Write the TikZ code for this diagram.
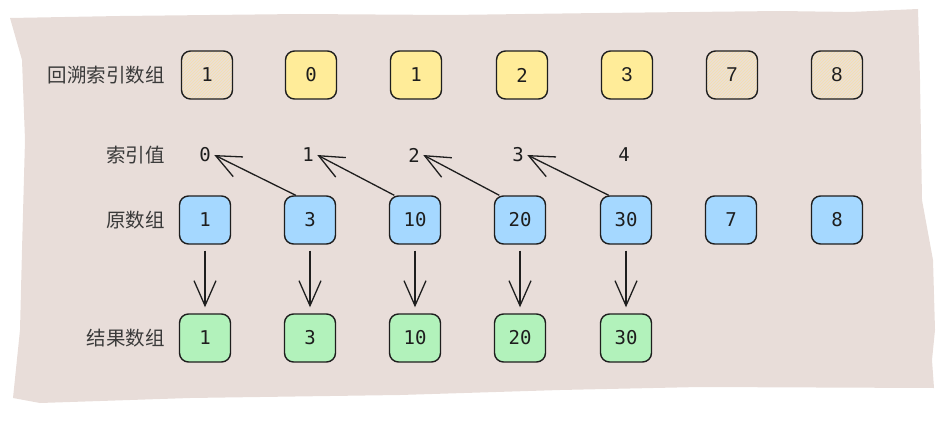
\documentclass[tikz,border=0pt]{standalone}
\usepackage{fontspec}
\newfontfamily\cjk{Noto Sans CJK SC}
\newfontfamily\mono{DejaVu Sans Mono}
\newfontfamily\sansnum{Liberation Sans}
\usetikzlibrary{arrows.meta,patterns}
\definecolor{bgc}{HTML}{E8DDD9}
\definecolor{ink}{HTML}{1E1E1E}
\definecolor{labc}{HTML}{3A3A3A}
\definecolor{yelc}{HTML}{FFEC99}
\definecolor{bluc}{HTML}{A5D8FF}
\definecolor{grnc}{HTML}{B2F2BB}
\definecolor{hatc}{HTML}{EBE0D6}
\definecolor{hatl}{HTML}{F6DFAA}
\tikzset{
  cell/.style={draw=ink, line width=1.4pt, rounded corners=9pt, minimum width=51pt, minimum height=48pt, inner sep=0pt, font=\mono\fontsize{19}{19}\selectfont, text=ink},
  yel/.style={cell, fill=yelc},
  blu/.style={cell, fill=bluc},
  grn/.style={cell, fill=grnc},
  hat/.style={cell, preaction={fill=hatc}, pattern=north east lines, pattern color=hatl},
  snum/.style={font=\sansnum\fontsize{20}{20}\selectfont},
  lbl/.style={font=\cjk\fontsize{19.5}{19.5}\selectfont, text=labc, anchor=east, inner sep=0pt},
  idx/.style={font=\mono\fontsize{19}{19}\selectfont, text=ink},
  arr/.style={-{Straight Barb[length=25pt,width=22pt,line width=1.3pt]}, line width=1.3pt, draw=ink}
}
\begin{document}
\begin{tikzpicture}[x=1pt,y=-1pt]
\useasboundingbox (0,0) rectangle (944,422);
\fill[bgc] (10,18) -- (120,16) -- (300,14) -- (450,15) -- (600,13) -- (780,11) -- (850,12) -- (918,9) -- (920,80) -- (922,200) -- (933,260) -- (935,330) -- (932,360) -- (934,388) -- (700,387) -- (560,390) -- (400,395) -- (190,398) -- (40,403) -- (13,398) -- (20,330) -- (22,250) -- (25,140) -- (22,60) -- cycle;

% labels
\node[lbl] (l1) at (165,75) {回溯索引数组};
\node[lbl] (l2) at (165,155) {索引值};
\node[lbl] (l3) at (165,220) {原数组};
\node[lbl] (l4) at (165,338) {结果数组};

% top row
\node[hat] (t0) at (207,75) {1};
\node[yel] (t1) at (311,75) {0};
\node[yel] (t2) at (416,75) {1};
\node[yel] (t3) at (522,75) {2};
\node[yel, snum] (t4) at (627,75) {3};
\node[hat, snum] (t5) at (732,75) {7};
\node[hat, snum] (t6) at (837,75) {8};

% index row
\node[idx] (i0) at (205,155) {0};
\node[idx] (i1) at (308,155) {1};
\node[idx] (i2) at (414,155) {2};
\node[idx] (i3) at (518,155) {3};
\node[idx] (i4) at (624,155) {4};

% original
\node[blu] (o0) at (205,220) {1};
\node[blu] (o1) at (310,220) {3};
\node[blu] (o2) at (415,220) {10};
\node[blu] (o3) at (520,220) {20};
\node[blu] (o4) at (626,220) {30};
\node[blu] (o5) at (731,220) {7};
\node[blu] (o6) at (837,220) {8};

% result
\node[grn] (r0) at (205,338) {1};
\node[grn] (r1) at (310,338) {3};
\node[grn] (r2) at (415,338) {10};
\node[grn] (r3) at (520,338) {20};
\node[grn] (r4) at (626,338) {30};

% up arrows
\draw[arr] (o1.120) -- (i0.east);
\draw[arr] (o2.130) -- (i1.east);
\draw[arr] (o3.130) -- (i2.east);
\draw[arr] (o4.125) -- (i3.east);

% down arrows
\foreach \k in {0,...,4}{
  \draw[arr, shorten <=6pt, shorten >=6pt] (o\k) -- (r\k);
}
\end{tikzpicture}
\end{document}
